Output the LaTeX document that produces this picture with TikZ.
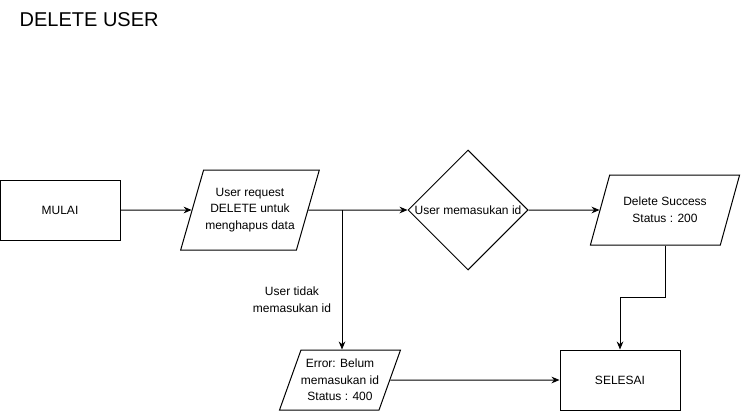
\documentclass[tikz,border=0pt]{standalone}
\usepackage{fontspec}
\setmainfont{Liberation Sans}
\usetikzlibrary{shapes.geometric,arrows.meta}

\begin{document}
\begin{tikzpicture}[x=0.75pt,y=-0.75pt,
		txt/.style={font=\fontsize{9}{12.5}\selectfont, align=center},
		box/.style={txt, draw, line width=0.75pt, minimum width=90pt, minimum height=45pt},
		io/.style={txt, draw, line width=0.75pt, trapezium, trapezium stretches=true, inner sep=0pt},
		link/.style={line width=0.75pt, -{Stealth[length=6pt, width=5pt]}}]

		\useasboundingbox (0,0) rectangle (741,411);
		\node[anchor=west, font=\fontsize{15}{18}\selectfont] (title) at (15,20) {DELETE USER};

		% make the flow shapes
		\node[box] (mulai) at (60,210) {MULAI};
		\node[io, trapezium left angle=63.4, trapezium right angle=116.6, minimum width=105pt, minimum height=60pt] (req) at (250,210) {User request\\DELETE untuk\\menghapus data};
		\node[txt, draw, line width=0.75pt, diamond, minimum width=90pt, minimum height=90pt, inner sep=0pt] (cek) at (468,210) {\makebox[0pt]{User memasukan id}};
		\node[io, trapezium left angle=60.3, trapezium right angle=119.7, minimum width=112.5pt, minimum height=52.5pt] (sukses) at (665,210) {Delete Success\\Status : 200};
		\node[io, trapezium left angle=63, trapezium right angle=117, minimum width=90pt, minimum height=45pt] (gagal) at (340,380) {Error: Belum\\memasukan id\\Status : 400};
		\node[box] (selesai) at (620,380) {SELESAI};

		% make the connectors
		\coordinate (cabang) at (342,210);
		\coordinate (belok) at (620,297);
		\draw[link] (mulai) -- (req);
		\draw[link] (req.east) -- (cek.west);
		\draw[link] (cabang) -- (cabang |- gagal.north);
		\node[txt] (ket) at (292,300) {User tidak\\memasukan id};
		\draw[link] (cek.east) -- (sukses.west);
		\draw[link] (sukses.south) |- (belok) -- (selesai.north);
		\draw[link] (gagal.east) -- (selesai.west);

	\end{tikzpicture}
\end{document}
